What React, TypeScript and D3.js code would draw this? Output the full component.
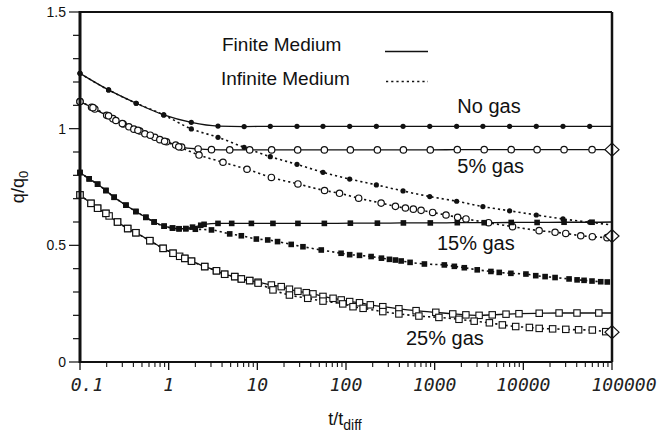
import { curveMonotoneX, line, range, scaleLinear, scaleLog } from "d3";

// values: time t/t_diff and flux q/q0
const noGasT = [0.1, 0.21, 0.43, 0.88, 1.8, 3.6, 7.1, 14, 28, 55, 110, 220, 440, 880, 1770, 3500, 7000, 14000, 28000, 56000, 100000];
const noGasFinite = [1.237, 1.166, 1.109, 1.059, 1.027, 1.011, 1.009, 1.01, 1.01, 1.01, 1.01, 1.01, 1.01, 1.01, 1.01, 1.01, 1.01, 1.01, 1.01, 1.01, 1.01];
const noGasInfinite = [1.237, 1.166, 1.109, 1.059, 0.999, 0.963, 0.92, 0.88, 0.847, 0.813, 0.784, 0.759, 0.733, 0.709, 0.689, 0.666, 0.648, 0.63, 0.613, 0.599, 0.587];

const gas5FiniteT = [0.1, 0.135, 0.147, 0.2, 0.235, 0.254, 0.307, 0.356, 0.405, 0.473, 0.539, 0.698, 0.795, 0.946, 1.2, 1.4, 2.15, 3.04, 4.88, 8.2, 14.5, 28.5, 57, 112, 226, 444, 893, 1800, 3620, 7300, 14300, 28800, 59600, 100000];
const gas5Finite = [1.116, 1.092, 1.084, 1.057, 1.043, 1.035, 1.02, 1.008, 0.998, 0.99, 0.978, 0.963, 0.953, 0.944, 0.93, 0.921, 0.913, 0.91, 0.909, 0.909, 0.909, 0.909, 0.909, 0.909, 0.909, 0.909, 0.909, 0.91, 0.91, 0.91, 0.91, 0.91, 0.91, 0.91];
const gas5InfiniteT = [0.1, 0.14, 0.21, 0.3, 0.45, 0.62, 0.9, 1.3, 2.2, 4.1, 7.65, 14.4, 28.7, 57.3, 84.5, 139, 249, 361, 468, 575, 703, 949, 1343, 1815, 2256, 4055, 7550, 15070, 22800, 30100, 44400, 60000, 87900, 100000];
const gas5Infinite = [1.116, 1.09, 1.055, 1.022, 0.993, 0.972, 0.946, 0.922, 0.887, 0.856, 0.826, 0.791, 0.763, 0.735, 0.723, 0.702, 0.681, 0.667, 0.66, 0.655, 0.65, 0.641, 0.63, 0.62, 0.613, 0.597, 0.58, 0.563, 0.556, 0.551, 0.541, 0.537, 0.533, 0.532];

const gas15FiniteT = [0.1, 0.127, 0.158, 0.196, 0.243, 0.33, 0.427, 0.553, 0.686, 0.889, 1.106, 1.31, 1.56, 1.86, 2.3, 2.51, 3.6, 5.14, 8.57, 15, 28.7, 57, 112, 226, 444, 893, 1800, 3620, 7300, 14300, 28800, 59600, 100000];
const gas15Finite = [0.812, 0.785, 0.762, 0.735, 0.706, 0.672, 0.645, 0.62, 0.6, 0.582, 0.574, 0.571, 0.572, 0.578, 0.586, 0.59, 0.594, 0.594, 0.594, 0.594, 0.594, 0.594, 0.595, 0.595, 0.596, 0.596, 0.597, 0.597, 0.598, 0.598, 0.599, 0.599, 0.6];
const gas15InfiniteT = [0.1, 0.127, 0.158, 0.196, 0.243, 0.33, 0.427, 0.553, 0.686, 0.889, 1.106, 1.31, 1.56, 2.0, 3.04, 4.88, 6.6, 9.75, 13.1, 16.9, 24.1, 32.7, 52.6, 88, 110, 142, 192, 251, 309, 361, 419, 528, 766, 1285, 1667, 2160, 3020, 4310, 5350, 7240, 10700, 13800, 17600, 22800, 32800, 40400, 48400, 59500, 74600, 88500, 100000];
const gas15Infinite = [0.812, 0.785, 0.762, 0.735, 0.706, 0.672, 0.645, 0.62, 0.6, 0.582, 0.574, 0.571, 0.571, 0.569, 0.566, 0.549, 0.541, 0.527, 0.523, 0.516, 0.504, 0.494, 0.48, 0.466, 0.46, 0.457, 0.452, 0.445, 0.44, 0.437, 0.433, 0.427, 0.42, 0.416, 0.41, 0.404, 0.395, 0.388, 0.384, 0.38, 0.377, 0.37, 0.366, 0.362, 0.356, 0.352, 0.35, 0.347, 0.344, 0.343, 0.342];

const gas25FiniteT = [0.1, 0.133, 0.158, 0.196, 0.213, 0.265, 0.345, 0.427, 0.613, 0.866, 1.12, 1.33, 1.52, 1.81, 2.55, 3.46, 4.28, 5.56, 6.6, 8.2, 10.2, 14.4, 18.6, 23, 28.7, 35.6, 42.4, 55, 71.5, 88.3, 110, 142, 188, 260, 395, 617, 1030, 1600, 2250, 3170, 4460, 6380, 8930, 15100, 25300, 40300, 71000, 100000];
const gas25Finite = [0.716, 0.68, 0.659, 0.637, 0.626, 0.6, 0.572, 0.554, 0.52, 0.487, 0.466, 0.453, 0.444, 0.432, 0.409, 0.391, 0.376, 0.366, 0.356, 0.349, 0.342, 0.33, 0.323, 0.312, 0.303, 0.297, 0.292, 0.281, 0.273, 0.266, 0.259, 0.254, 0.245, 0.237, 0.228, 0.22, 0.213, 0.206, 0.202, 0.2, 0.202, 0.205, 0.207, 0.209, 0.21, 0.21, 0.21, 0.21];
const gas25InfiniteT = [0.1, 0.133, 0.158, 0.196, 0.265, 0.345, 0.427, 0.613, 0.866, 1.12, 1.52, 1.81, 2.55, 3.46, 4.28, 5.56, 6.6, 8.2, 10.2, 15, 23, 37, 55, 92, 120, 156, 260, 395, 664, 1116, 1880, 2790, 4140, 5800, 8200, 11700, 15100, 21400, 30100, 42000, 60000, 85000, 100000];
const gas25Infinite = [0.716, 0.68, 0.659, 0.637, 0.6, 0.572, 0.554, 0.52, 0.487, 0.466, 0.444, 0.432, 0.409, 0.391, 0.376, 0.366, 0.356, 0.349, 0.338, 0.309, 0.287, 0.273, 0.261, 0.249, 0.237, 0.23, 0.216, 0.206, 0.197, 0.191, 0.183, 0.175, 0.168, 0.159, 0.152, 0.148, 0.144, 0.142, 0.14, 0.138, 0.137, 0.13, 0.128];

const diamondT = 100000;
const diamondQ = [0.91, 0.54, 0.128];

const xTicks = [0.1, 1, 10, 100, 1000, 10000, 100000];
const xTickLabels = ["0.1", "1", "10", "100", "1000", "10000", "100000"];
const yTicks = [0, 0.5, 1, 1.5];
const yTickLabels = ["0", "0.5", "1", "1.5"];

const labels = [
  { text: "No gas", t: 1800, q: 1.067 },
  { text: "5% gas", t: 1800, q: 0.81 },
  { text: "15% gas", t: 1060, q: 0.48 },
  { text: "25% gas", t: 475, q: 0.073 },
];

const W = 663;
const H = 437;
const sans = "'Liberation Sans', Arial, Helvetica, sans-serif";

const x = scaleLog().domain([0.1, 100000]).range([80, 612]);
const y = scaleLinear().domain([0, 1.5]).range([362, 12]);

type Marker = "dot" | "circle" | "square" | "openSquare";

const series: { t: number[]; q: number[]; dashed: boolean; marker: Marker }[] = [
  { t: noGasT, q: noGasFinite, dashed: false, marker: "dot" },
  { t: noGasT, q: noGasInfinite, dashed: true, marker: "dot" },
  { t: gas5FiniteT, q: gas5Finite, dashed: false, marker: "circle" },
  { t: gas5InfiniteT, q: gas5Infinite, dashed: true, marker: "circle" },
  { t: gas15FiniteT, q: gas15Finite, dashed: false, marker: "square" },
  { t: gas15InfiniteT, q: gas15Infinite, dashed: true, marker: "square" },
  { t: gas25FiniteT, q: gas25Finite, dashed: false, marker: "openSquare" },
  { t: gas25InfiniteT, q: gas25Infinite, dashed: true, marker: "openSquare" },
];

function drawMarker(kind: Marker, cx: number, cy: number, key: string) {
  if (kind === "dot") return <circle key={key} cx={cx} cy={cy} r={2.6} fill="#111" />;
  if (kind === "circle")
    return <circle key={key} cx={cx} cy={cy} r={3.2} fill="#fff" stroke="#111" strokeWidth={1.2} />;
  if (kind === "square") return <rect key={key} x={cx - 2.8} y={cy - 2.8} width={5.6} height={5.6} fill="#111" />;
  return <rect key={key} x={cx - 3.2} y={cy - 3.2} width={6.4} height={6.4} fill="#fff" stroke="#111" strokeWidth={1.1} />;
}

export default function App() {
  const minorX: number[] = [];
  for (let d = -1; d < 5; d++) {
    for (let m = 2; m <= 9; m++) minorX.push(m * Math.pow(10, d));
  }
  const minorY = range(0, 16).map((i) => i / 10);

  return (
    <svg width={W} height={H} style={{ position: "absolute", left: 0, top: 0, background: "#fff" }}>
      <rect x={0} y={0} width={W} height={H} fill="#fff" />

      {/* curves */}
      {series.map((s, si) => {
        const gen = line<number>()
          .x((_, i) => x(s.t[i]))
          .y((v) => y(v))
          .curve(curveMonotoneX);
        return (
          <path
            key={"l" + si}
            d={gen(s.q) || ""}
            fill="none"
            stroke="#111"
            strokeWidth={s.dashed ? 1.6 : 1.3}
            strokeDasharray={s.dashed ? "2.2,3" : undefined}
          />
        );
      })}

      {/* markers */}
      {series.map((s, si) =>
        s.q.map((v, i) =>
          s.t[i] >= 100000 ? null : drawMarker(s.marker, x(s.t[i]), y(v), `m${si}-${i}`)
        )
      )}

      {diamondQ.map((v, i) => {
        const cx = x(diamondT);
        const cy = y(v);
        return (
          <path
            key={"d" + i}
            d={`M${cx - 7},${cy} L${cx},${cy - 6.5} L${cx + 7},${cy} L${cx},${cy + 6.5} Z`}
            fill="#fff"
            stroke="#111"
            strokeWidth={1.2}
          />
        );
      })}

      {/* frame */}
      <line x1={80} x2={612} y1={12} y2={12} stroke="#111" strokeWidth={2} />
      <line x1={80} x2={612} y1={362} y2={362} stroke="#111" strokeWidth={2} />
      <line x1={612} x2={612} y1={12} y2={362} stroke="#111" strokeWidth={2.5} />
      <line x1={80} x2={80} y1={11} y2={363} stroke="#111" strokeWidth={3} />

      {/* y ticks */}
      {minorY.map((v) => (
        <line key={"yt" + v} x1={80} x2={yTicks.includes(v) ? 69 : 73} y1={y(v)} y2={y(v)} stroke="#111" strokeWidth={1.2} />
      ))}
      {yTicks.map((v, i) => (
        <text key={"yl" + i} x={66} y={y(v) + 5} textAnchor="end" fontFamily={sans} fontSize={14} fill="#111">
          {yTickLabels[i]}
        </text>
      ))}

      {/* x ticks */}
      {minorX.map((v) => (
        <line key={"xm" + v} x1={x(v)} x2={x(v)} y1={362} y2={367} stroke="#111" strokeWidth={1.1} />
      ))}
      {xTicks.map((v, i) => (
        <line key={"xt" + i} x1={x(v)} x2={x(v)} y1={362} y2={370} stroke="#111" strokeWidth={1.3} />
      ))}
      {xTicks.map((v, i) => (
        <text
          key={"xl" + i}
          x={i === 0 ? x(v) + 7 : i === xTicks.length - 1 ? x(v) + 12 : x(v)}
          y={391}
          textAnchor="middle"
          fontFamily="'DejaVu Sans Mono', 'Liberation Mono', monospace"
          fontStyle="italic"
          fontSize={18}
          fill="#222"
        >
          {xTickLabels[i]}
        </text>
      ))}

      {/* axis titles */}
      <text
        transform={`translate(24,${187}) rotate(-90)`}
        textAnchor="middle"
        fontFamily={sans}
        fontSize={18}
        fill="#111"
      >
        q/q<tspan fontSize={13} dy={4}>0</tspan>
      </text>
      <text x={345} y={425} textAnchor="middle" fontFamily={sans} fontSize={18} fill="#111">
        t/t<tspan fontSize={14} dy={5}>diff</tspan>
      </text>

      {/* legend */}
      <text x={222} y={51} fontFamily={sans} fontSize={19} fill="#111">Finite Medium</text>
      <line x1={385} x2={428} y1={51.5} y2={51.5} stroke="#111" strokeWidth={1.3} />
      <text x={221} y={85} fontFamily={sans} fontSize={19} fill="#111">Infinite Medium</text>
      <line x1={386} x2={428} y1={81.5} y2={81.5} stroke="#111" strokeWidth={1.6} strokeDasharray="2.2,3" />

      {/* series labels */}
      {labels.map((l) => (
        <text key={l.text} x={x(l.t)} y={y(l.q)} fontFamily={sans} fontSize={20} fill="#111">
          {l.text}
        </text>
      ))}
    </svg>
  );
}
